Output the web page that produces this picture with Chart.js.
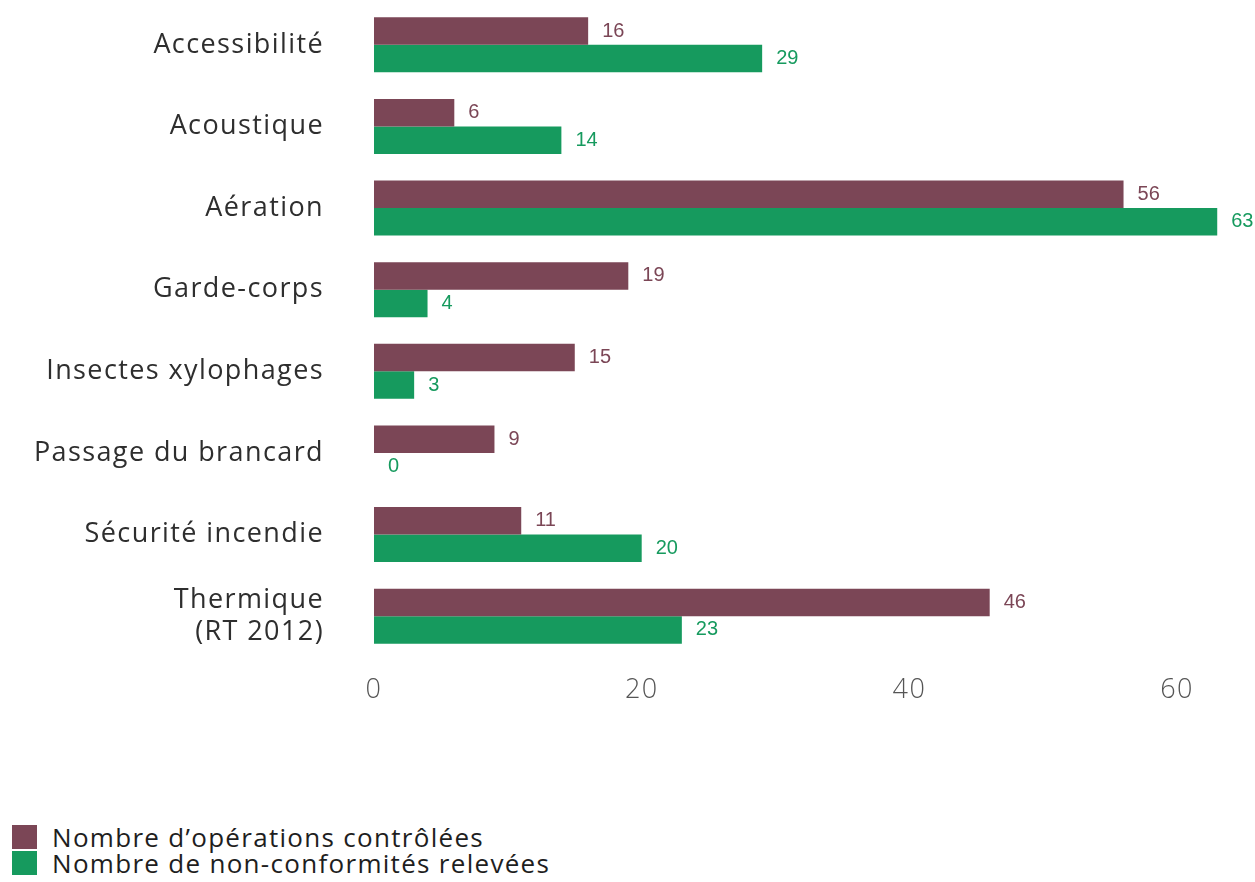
<!DOCTYPE html>
<html>
<head>
<meta charset="utf-8">
<script src="https://cdn.jsdelivr.net/npm/chart.js@4.4.0/dist/chart.umd.min.js"></script>
<style>
  html, body { margin: 0; padding: 0; background: #fff; }
  #wrap { position: absolute; left: 0; top: 0; width: 1255px; height: 720px; }
  #legend { position: absolute; left: 12px; top: 824px; font-family: "Open Sans", sans-serif; font-weight: 400; font-size: 26px; letter-spacing: 1.3px; color: #1e1e1e; }
  .item { display: flex; align-items: center; height: 26px; }
  .sw { width: 25px; height: 24px; margin-right: 15px; }
</style>
</head>
<body>
<div id="wrap"><canvas id="c"></canvas></div>
<div id="legend"></div>
<script>
const categories = [
  "Accessibilité", "Acoustique", "Aération", "Garde-corps",
  "Insectes xylophages", "Passage du brancard", "Sécurité incendie",
  ["Thermique", "(RT 2012)"]
];
const seriesNames = ["Nombre d\u2019opérations contrôlées", "Nombre de non-conformités relevées"];
const operations = [16, 6, 56, 19, 15, 9, 11, 46];
const nonConformites = [29, 14, 63, 4, 3, 0, 20, 23];
const xTicks = [0, 20, 40, 60];

const colors = ["#7b4656", "#169a5e"];
const labelColors = ["#7b4656", "#169a5e"];
const SPACING = "1.4px";

const spacingPlugin = {
  id: "spacing",
  beforeUpdate(chart) { chart.ctx.letterSpacing = SPACING; },
  beforeLayout(chart) { chart.ctx.letterSpacing = SPACING; },
  beforeDraw(chart) { chart.ctx.letterSpacing = SPACING; }
};

const valueLabels = {
  id: "valueLabels",
  afterDatasetsDraw(chart) {
    const ctx = chart.ctx;
    ctx.save();
    ctx.letterSpacing = "0px";
    ctx.font = "20px 'Liberation Sans', Arial, sans-serif";
    ctx.textBaseline = "middle";
    ctx.textAlign = "left";
    chart.data.datasets.forEach((ds, di) => {
      const meta = chart.getDatasetMeta(di);
      ctx.fillStyle = labelColors[di];
      meta.data.forEach((bar, i) => {
        ctx.fillText(String(ds.data[i]), bar.x + 14, bar.y);
      });
    });
    ctx.restore();
  }
};

const chart = new Chart(document.getElementById("c"), {
  type: "bar",
  data: {
    labels: categories,
    datasets: [
      { label: seriesNames[0], data: operations, backgroundColor: colors[0] },
      { label: seriesNames[1], data: nonConformites, backgroundColor: colors[1] }
    ]
  },
  options: {
    indexAxis: "y",
    responsive: true,
    maintainAspectRatio: false,
    animation: false,
    layout: { padding: { top: 4, right: 11, left: 0, bottom: 0 } },
    datasets: { bar: { categoryPercentage: 0.675, barPercentage: 1.0 } },
    plugins: { legend: { display: false }, tooltip: { enabled: false } },
    scales: {
      x: {
        min: 0, max: 65,
        grid: { display: false, drawTicks: false },
        border: { display: false },
        afterBuildTicks(scale) { scale.ticks = xTicks.map(v => ({ value: v })); },
        afterFit(scale) { scale.height = 63; scale.paddingLeft = 0; scale.paddingRight = 0; },
        ticks: { padding: 17, color: "#555", font: { family: "Open Sans", size: 27, weight: 300 } }
      },
      y: {
        grid: { display: false, drawTicks: false },
        border: { display: false },
        afterFit(scale) { scale.width = 374; scale.paddingTop = 0; scale.paddingBottom = 0; },
        ticks: { padding: 50, color: "#2e2e2e", font: { family: "Open Sans", size: 27, weight: 400, lineHeight: 1.2 } }
      }
    }
  },
  plugins: [spacingPlugin, valueLabels]
});

const leg = document.getElementById("legend");
chart.data.datasets.forEach(ds => {
  const d = document.createElement("div");
  d.className = "item";
  const s = document.createElement("span");
  s.className = "sw";
  s.style.background = ds.backgroundColor;
  const t = document.createElement("span");
  t.textContent = ds.label;
  d.appendChild(s); d.appendChild(t);
  leg.appendChild(d);
});
</script>
</body>
</html>
